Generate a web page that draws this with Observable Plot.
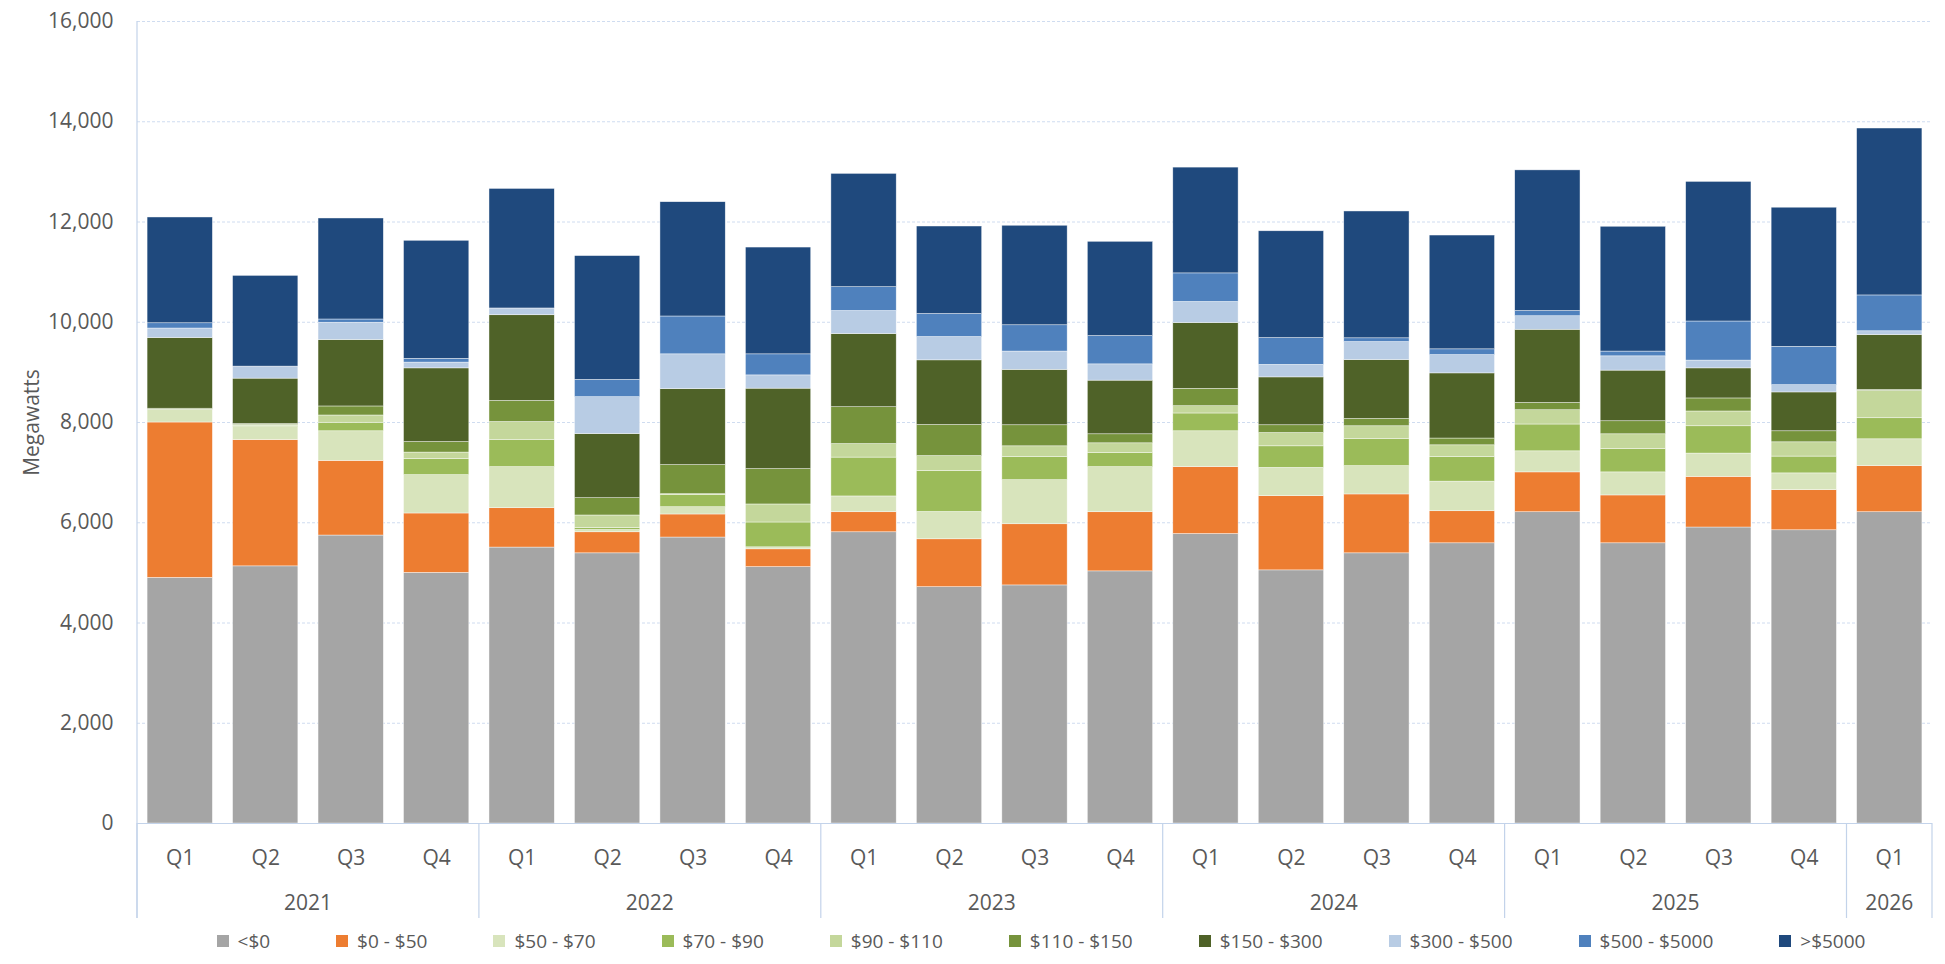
<!DOCTYPE html>
<html>
<head>
<meta charset="utf-8">
<script src="https://cdn.jsdelivr.net/npm/d3@7"></script>
<script src="https://cdn.jsdelivr.net/npm/@observablehq/plot@0.6"></script>
<style>
  body { margin: 0; background: #fff; font-family: "Open Sans", sans-serif; }
  #legend {
    display: flex; align-items: center; justify-content: center;
    height: 32px; padding-left: 150px; padding-right: 13px; gap: 66px;
    font-size: 19px; color: #595959; white-space: nowrap;
  }
  .item { display: flex; align-items: center; }
  .sw { width: 12px; height: 12px; margin-right: 9px; }
</style>
</head>
<body>
<div id="chart"></div>
<div id="legend"></div>
<script>
// Quarters shown on the category axis
const years    = ["2021","2021","2021","2021","2022","2022","2022","2022","2023","2023","2023","2023","2024","2024","2024","2024","2025","2025","2025","2025","2026"];
const quarters = ["Q1","Q2","Q3","Q4","Q1","Q2","Q3","Q4","Q1","Q2","Q3","Q4","Q1","Q2","Q3","Q4","Q1","Q2","Q3","Q4","Q1"];

// Price bands (bottom to top of each stack) and their colours
const bandNames  = ["<$0","$0 - $50","$50 - $70","$70 - $90","$90 - $110","$110 - $150","$150 - $300","$300 - $500","$500 - $5000",">$5000"];
const bandColors = ["#A5A5A5","#ED7D31","#D8E4BC","#9BBB59","#C4D79B","#76933C","#4F6228","#B8CCE4","#4F81BD","#1F497D"];

// Megawatts per price band, one value per quarter
const below0     = [4900,5130,5745,5000,5505,5390,5705,5115,5810,4715,4750,5030,5775,5050,5390,5590,6210,5590,5905,5850,6210];
const from0to50  = [3100,2520,1490,1185, 785, 420, 460, 355, 400, 955,1220,1180,1335,1480,1175, 640, 795, 955,1010, 800, 920];
const from50to70 = [ 255, 260, 590, 765, 820,  45, 145,  40, 315, 545, 880, 900, 715, 565, 565, 590, 420, 460, 465, 335, 535];
const from70to90 = [   0,  20, 170, 325, 545,  40, 240, 495, 775, 820, 465, 285, 355, 430, 545, 495, 535, 465, 545, 335, 420];
const from90to110= [   0,  20, 145, 125, 355, 250,  20, 360, 270, 295, 210, 190, 145, 265, 250, 230, 285, 295, 295, 285, 545];
const from110to150=[  20,  20, 180, 210, 420, 345, 580, 705, 735, 620, 420, 180, 345, 155, 145, 135, 145, 260, 260, 220,  20];
const from150to300=[1410, 905,1325,1470,1710,1280,1515,1605,1460,1290,1105,1070,1315, 955,1175,1300,1460,1010, 600, 775,1095];
const from300to500=[ 190, 240, 345, 115, 135, 735, 695, 265, 460, 465, 365, 325, 420, 250, 360, 365, 270, 285, 155, 145,  75];
const from500to5000=[105,   0,  65,  75,   0, 345, 755, 420, 475, 460, 525, 565, 570, 535,  75, 115, 105,  95, 780, 765, 715];
const above5000  = [2110,1810,2015,2355,2385,2470,2280,2130,2260,1745,1985,1880,2110,2130,2530,2270,2805,2490,2785,2775,3330];

const bandValues = [below0, from0to50, from50to70, from70to90, from90to110, from110to150, from150to300, from300to500, from500to5000, above5000];
const yTicks = [0, 2000, 4000, 6000, 8000, 10000, 12000, 14000, 16000];

const periods = years.map((y, i) => `${y} ${quarters[i]}`);
const rows = [];
bandNames.forEach((band, b) => {
  periods.forEach((p, i) => rows.push({period: p, band, value: bandValues[b][i]}));
});

const textColor = "#595959";
const axisColor = "#C3D3EA";
const fs = 21;

const plot = Plot.plot({
  width: 1945,
  height: 925,
  marginTop: 21,
  marginBottom: 102,
  marginLeft: 137,
  marginRight: 13,
  style: {fontFamily: "Open Sans, sans-serif", fontSize: `${fs}px`, color: textColor, background: "#fff", overflow: "visible"},
  x: {domain: periods, paddingInner: 0.236, paddingOuter: 0.118, round: false, axis: null},
  y: {domain: [0, 16000], axis: null},
  color: {domain: bandNames, range: bandColors},
  marks: [
    Plot.gridY(yTicks, {stroke: "#CFDCF0", strokeOpacity: 1, strokeDasharray: "3,2"}),
    Plot.barY(rows, {x: "period", y: "value", fill: "band", stroke: "#fff", strokeWidth: 0.6, strokeOpacity: 0.7}),
    Plot.axisY(yTicks, {tickSize: 0, tickPadding: 24, tickFormat: d3.format(","), label: null, fontSize: fs, fill: textColor}),
    Plot.axisX({tickSize: 0, tickPadding: 27, tickFormat: d => d.split(" ")[1], label: null, fontSize: fs, fill: textColor}),
    Plot.ruleY([0], {stroke: axisColor, strokeWidth: 1.2}),
    Plot.text(["Megawatts"], {frameAnchor: "left", dx: -105, rotate: -90, textAnchor: "middle", fontSize: fs, fill: textColor})
  ]
});

document.getElementById("chart").appendChild(plot);

// Second level of the category axis: years, with separators between groups
const xs = plot.scale("x");
const bw = xs.bandwidth;
const gap = (xs.apply(periods[1]) - xs.apply(periods[0]) - bw) / 2;
const yAxis = 823, yBottom = 918;
const svg = d3.select(plot);
const yearList = Array.from(new Set(years));
const edges = [];
yearList.forEach(yr => {
  const ps = periods.filter((p, i) => years[i] === yr);
  const left = xs.apply(ps[0]) - gap;
  const right = xs.apply(ps[ps.length - 1]) + bw + gap;
  edges.push(left, right);
  svg.append("text")
    .attr("x", (left + right) / 2).attr("y", 910)
    .attr("text-anchor", "middle")
    .attr("fill", textColor).style("font-size", `${fs}px`)
    .text(yr);
});
Array.from(new Set(edges.map(e => Math.round(e * 10) / 10))).forEach(e => {
  svg.append("line")
    .attr("x1", e).attr("x2", e).attr("y1", yAxis).attr("y2", yBottom)
    .attr("stroke", axisColor).attr("stroke-width", 1.2);
});
// vertical value-axis line
svg.append("line")
  .attr("x1", 137).attr("x2", 137).attr("y1", 21).attr("y2", yBottom)
  .attr("stroke", axisColor).attr("stroke-width", 1.2);

// Legend
const legend = d3.select("#legend");
bandNames.forEach((name, i) => {
  const item = legend.append("div").attr("class", "item");
  item.append("div").attr("class", "sw").style("background", bandColors[i]);
  item.append("span").text(name);
});
</script>
</body>
</html>
